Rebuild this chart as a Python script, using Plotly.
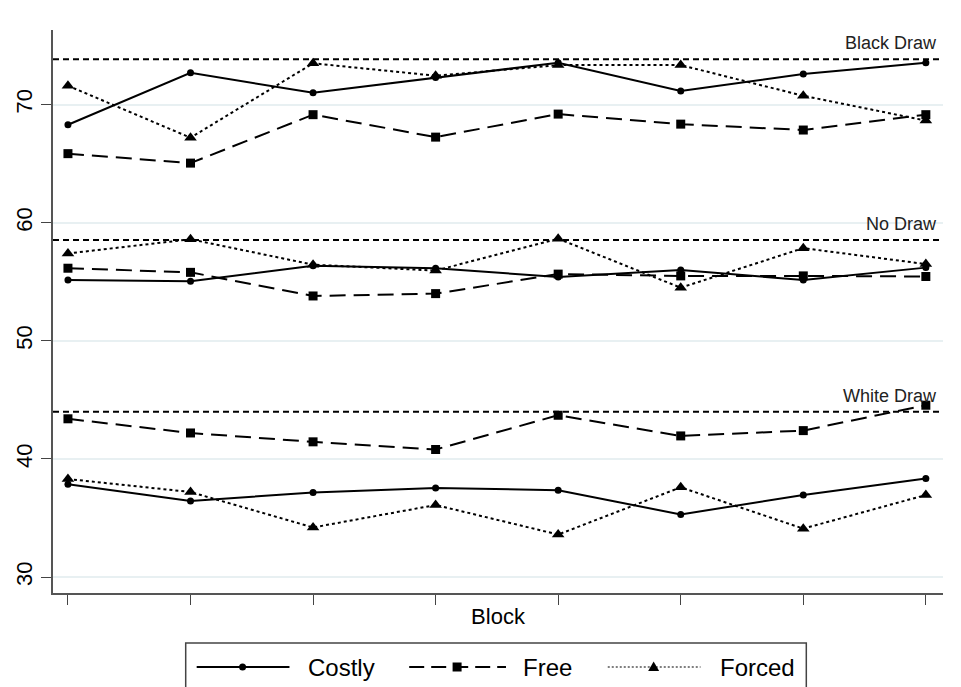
import plotly.graph_objects as go

blocks = [1, 2, 3, 4, 5, 6, 7, 8]

black_costly = [68.3, 72.7, 71.0, 72.3, 73.55, 71.15, 72.6, 73.55]
black_free = [65.85, 65.05, 69.15, 67.25, 69.2, 68.35, 67.85, 69.15]
black_forced = [71.6, 67.2, 73.5, 72.45, 73.35, 73.35, 70.75, 68.65]

no_costly = [55.15, 55.05, 56.35, 56.15, 55.4, 56.0, 55.15, 56.2]
no_free = [56.15, 55.8, 53.8, 54.0, 55.65, 55.5, 55.5, 55.45]
no_forced = [57.4, 58.6, 56.45, 55.95, 58.65, 54.5, 57.85, 56.5]

white_costly = [37.85, 36.45, 37.15, 37.55, 37.35, 35.3, 36.95, 38.35]
white_free = [43.4, 42.2, 41.45, 40.8, 43.7, 41.95, 42.4, 44.55]
white_forced = [38.3, 37.2, 34.2, 36.1, 33.6, 37.6, 34.1, 36.95]

ref_values = [73.84, 58.53, 44.0]
ref_labels = ["Black Draw", "No Draw", "White Draw"]

series_names = ["Costly", "Free", "Forced"]
yticks = [30, 40, 50, 60, 70]

FONT = "Liberation Sans, Arial, sans-serif"

styles = {
    "Costly": dict(dash="solid", symbol="circle", size=7),
    "Free": dict(dash="16px,8px", symbol="square", size=9),
    "Forced": dict(dash="dot", symbol="triangle-up", size=11),
}

groups = [
    (black_costly, black_free, black_forced),
    (no_costly, no_free, no_forced),
    (white_costly, white_free, white_forced),
]

W, H = 961, 687
L, R, T, B = 51, 18, 30, 94
PW, PH = W - L - R, H - T - B


def px(X):
    return (X - L) / PW


def py(Y):
    return (H - B - Y) / PH


fig = go.Figure()

x_min, x_max = 0.878, 8.14

for val in ref_values:
    fig.add_trace(go.Scatter(
        x=[x_min, x_max], y=[val, val], mode="lines",
        line=dict(color="black", width=2, dash="6px,4px"),
        showlegend=False, hoverinfo="skip"))

for gi, grp in enumerate(groups):
    for name, vals in zip(series_names, grp):
        st = styles[name]
        fig.add_trace(go.Scatter(
            x=blocks, y=vals, mode="lines+markers", name=name,
            showlegend=False,
            line=dict(color="black", width=2, dash=st["dash"]),
            marker=dict(color="black", symbol=st["symbol"], size=st["size"])))

for val, lab in zip(ref_values, ref_labels):
    fig.add_annotation(x=px(939), xref="paper", y=val, yref="y",
                       text=lab, showarrow=False, xanchor="right",
                       yanchor="bottom", yshift=4,
                       font=dict(size=18, color="#222", family=FONT))

# custom legend (drawn in pixel-based paper coordinates)
ly = py(667)
shapes = [dict(type="rect", xref="paper", yref="paper",
               x0=px(184), x1=px(806), y0=py(643), y1=py(700),
               line=dict(color="#444", width=1.5), fillcolor="rgba(0,0,0,0)")]
legend_items = [
    ("Costly", 195, 288, 241, 305, "solid", 2),
    ("Free", 408, 505, 456, 520, "15px,7px", 2),
    ("Forced", 607, 700, 653, 717, "2px,2px", 1.2),
]
for name, x0, x1, xm, xt, dash, lw in legend_items:
    shapes.append(dict(type="line", xref="paper", yref="paper",
                       x0=px(x0), x1=px(x1), y0=ly, y1=ly,
                       line=dict(color="black", width=lw, dash=dash)))
    if name == "Costly":
        shapes.append(dict(type="circle", xref="paper", yref="paper",
                           xsizemode="pixel", ysizemode="pixel",
                           xanchor=px(xm), yanchor=ly,
                           x0=-3.5, x1=3.5, y0=-3.5, y1=3.5,
                           fillcolor="black", line=dict(width=0)))
    elif name == "Free":
        shapes.append(dict(type="rect", xref="paper", yref="paper",
                           xsizemode="pixel", ysizemode="pixel",
                           xanchor=px(xm), yanchor=ly,
                           x0=-4.5, x1=4.5, y0=-4.5, y1=4.5,
                           fillcolor="black", line=dict(width=0)))
    else:
        shapes.append(dict(type="path", xref="paper", yref="paper",
                           xsizemode="pixel", ysizemode="pixel",
                           xanchor=px(xm), yanchor=ly,
                           path="M -5.5,-4 L 5.5,-4 L 0,5.5 Z",
                           fillcolor="black", line=dict(width=0)))
    fig.add_annotation(x=px(xt), xref="paper", y=ly, yref="paper",
                       text=name, showarrow=False, xanchor="left",
                       yanchor="middle", font=dict(size=24, color="black",
                                                   family=FONT))

fig.update_layout(
    width=W, height=H,
    margin=dict(l=L, r=R, t=T, b=B),
    paper_bgcolor="white", plot_bgcolor="white",
    font=dict(family=FONT, color="black"),
    showlegend=False,
    shapes=shapes,
)

fig.update_xaxes(
    range=[x_min, x_max], tickvals=blocks, ticktext=[""] * 8,
    ticks="outside", ticklen=10, tickcolor="#444", showgrid=False,
    showline=True, linecolor="#555", linewidth=1.5, zeroline=False,
    title=dict(text="Block", font=dict(size=22), standoff=2))

fig.update_yaxes(
    range=[28.65, 76.32], tickvals=yticks, tickangle=-90,
    ticks="outside", ticklen=10, tickcolor="#444",
    tickfont=dict(size=22), showgrid=True, gridcolor="#e8f0f2",
    gridwidth=2, showline=True, linecolor="#555", linewidth=1.5,
    zeroline=False)

fig.write_html("out.html", config={"displayModeBar": False},
               post_script="document.body.style.margin='0px';")
